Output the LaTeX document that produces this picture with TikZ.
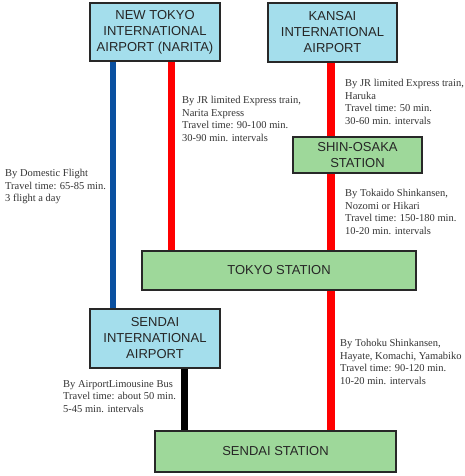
\documentclass[tikz,border=0pt]{standalone}
\usepackage{fontspec}
\setmainfont{Liberation Serif}
\setsansfont{Liberation Sans}
\usepackage{tikz}
\usetikzlibrary{positioning,backgrounds}
\definecolor{airportcolor}{RGB}{164,222,236}
\definecolor{stationcolor}{RGB}{158,216,154}
\definecolor{flightcolor}{RGB}{10,80,160}
\definecolor{railcolor}{RGB}{255,0,0}
\definecolor{boxline}{RGB}{40,40,40}
\tikzset{
  place box/.style={
    rectangle,
    draw=boxline,
    line width=1.2pt,
    inner sep=0pt,
    align=center,
    text=black!85,
    font=\sffamily\fontsize{13pt}{16pt}\selectfont
  },
  airport box/.style={
    place box,
    fill=airportcolor
  },
  station box/.style={
    place box,
    fill=stationcolor
  },
  route note/.style={
    anchor=north west,
    inner sep=0pt,
    align=left,
    text=black!80,
    font=\fontsize{10.5pt}{12.6pt}\selectfont
  },
  flight line/.style={draw=flightcolor, line width=6pt},
  rail line/.style={draw=railcolor, line width=7.5pt},
  bus line/.style={draw=black, line width=7pt}
}

\begin{document}
\begin{tikzpicture}[x=1pt, y=-1pt]
  \useasboundingbox (0,0) rectangle (465,476);

  % Airports and stations
  \node[airport box, minimum width=130pt, minimum height=58pt] (narita) at (155,32)
    {NEW TOKYO\\INTERNATIONAL\\AIRPORT (NARITA)};
  \node[airport box, minimum width=129pt, minimum height=59pt] (kansai) at (332.5,32.5)
    {KANSAI\\INTERNATIONAL\\AIRPORT};
  \node[station box, minimum width=129pt, minimum height=36pt] (shinosaka) at (357.5,155)
    {SHIN-OSAKA\\STATION};
  \node[station box, minimum width=274pt, minimum height=39pt] (tokyo) at (279,270.5)
    {TOKYO STATION};
  \node[airport box, minimum width=130pt, minimum height=59pt] (sendaiair) at (155,338.5)
    {SENDAI\\INTERNATIONAL\\AIRPORT};
  \node[station box, minimum width=241pt, minimum height=41pt] (sendai) at (275.5,451.5)
    {SENDAI STATION};

  % Rail, flight and bus routes
  \coordinate (flightx) at (113,0);
  \coordinate (naritax) at (171.5,0);
  \coordinate (tokaidox) at (331,0);
  \coordinate (busx) at (184,0);
  \begin{pgfonlayer}{background}
    \draw[flight line] (flightx |- narita.south) -- (flightx |- sendaiair.north);
    \draw[rail line] (naritax |- narita.south) -- (naritax |- tokyo.north);
    \draw[rail line] (tokaidox |- kansai.south) -- (tokaidox |- shinosaka.north);
    \draw[rail line] (tokaidox |- shinosaka.south) -- (tokaidox |- tokyo.north);
    \draw[rail line] (tokaidox |- tokyo.south) -- (tokaidox |- sendai.north);
    \draw[bus line] (busx |- sendaiair.south) -- (busx |- sendai.north);
  \end{pgfonlayer}

  % Route notes
  \node[route note] (narexp) at (182,96)
    {By JR limited Express train,\\Narita Express\\Travel time: 90-100 min.\\30-90 min. intervals};
  \node[route note] (haruka) at (345,79)
    {By JR limited Express train,\\Haruka\\Travel time: 50 min.\\30-60 min. intervals};
  \node[route note] (tokaido) at (345,189)
    {By Tokaido Shinkansen,\\Nozomi or Hikari\\Travel time: 150-180 min.\\10-20 min. intervals};
  \node[route note] (domestic) at (5,169)
    {By Domestic Flight\\Travel time: 65-85 min.\\3 flight a day};
  \node[route note] (tohoku) at (340,339)
    {By Tohoku Shinkansen,\\Hayate, Komachi, Yamabiko\\Travel time: 90-120 min.\\10-20 min. intervals};
  \node[route note] (limousine) at (63,380)
    {By AirportLimousine Bus\\Travel time: about 50 min.\\5-45 min. intervals};
\end{tikzpicture}
\end{document}
